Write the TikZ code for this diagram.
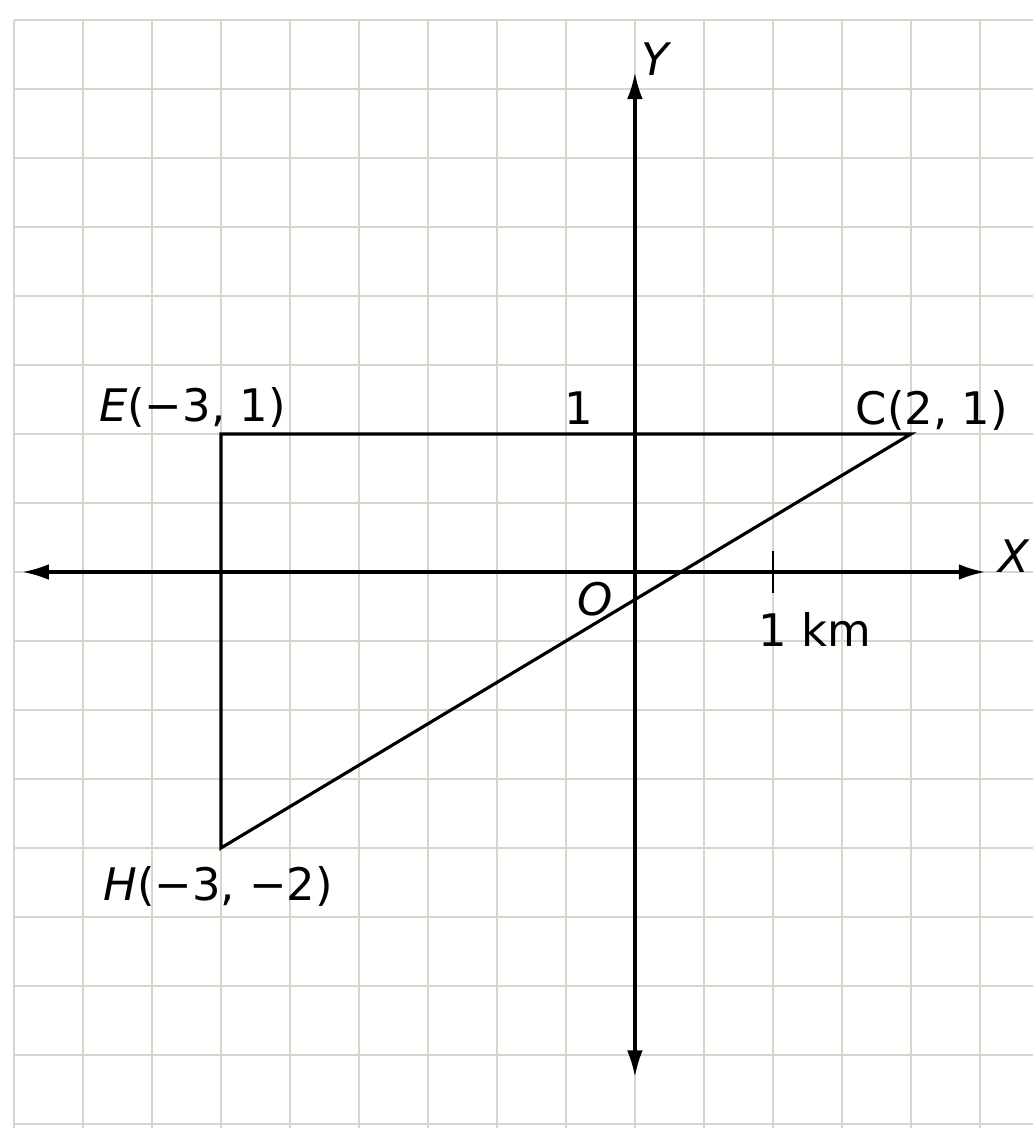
\documentclass[tikz,border=0pt]{standalone}
\usepackage{fontspec}
\setmainfont{DejaVu Sans}
\usepackage{tikz}
\usetikzlibrary{arrows.meta,positioning}
\definecolor{racsszin}{RGB}{206,218,202}
\tikzset{
  halo/.style={draw=racsszin,line width=0.8pt},
  tengely/.style={line width=1.3pt,{Latex[length=11pt,width=6.5pt]}-{Latex[length=11pt,width=6.5pt]}},
  oldal/.style={line width=1.3pt,line join=miter},
  cimke/.style={inner sep=0pt,font=\fontsize{18.5}{20}\selectfont},
}
\begin{document}
\begin{tikzpicture}[x=2cm,y=2cm]
  \useasboundingbox (-4.601,-4.029) rectangle (2.884,4.145);
  \fill[white] (-4.601,-4.029) rectangle (2.884,4.145);
  \draw[halo,step=0.5] (-4.5,-4.029) grid (2.884,4);
  % tengelyek
  \coordinate (xb) at (-4.44,0); \coordinate (xj) at (2.54,0);
  \coordinate (ya) at (0,-3.66); \coordinate (yf) at (0,3.62);
  \draw[tengely] (xb) -- (xj);
  \draw[tengely] (ya) -- (yf);
  \coordinate (t1) at (1,0.15); \coordinate (t2) at (1,-0.15);
  \draw[line width=1pt] (t1) -- (t2);
  % haromszog
  \coordinate (E) at (-3,1);
  \coordinate (C) at (2,1);
  \coordinate (H) at (-3,-2);
  \draw[oldal] (H) -- (E) -- (C) -- cycle;
  \node[cimke] (ylab) at (0.16,3.72) {\textit{Y}};
  \node[cimke] (xlab) at (2.75,0.116) {\textit{X}};
  \node[cimke] (elab) at (-3.207,1.19) {\textit{E}(−3, 1)};
  \node[cimke] (egy) at (-0.41,1.19) {1};
  \node[cimke] (clab) at (2.152,1.174) {C(2, 1)};
  \node[cimke] (olab) at (-0.29,-0.196) {\textit{O}};
  \node[cimke] (km) at (1.304,-0.413) {1 km};
  \node[cimke] (hlab) at (-3.02,-2.275) {\textit{H}(−3, −2)};
\end{tikzpicture}
\end{document}
